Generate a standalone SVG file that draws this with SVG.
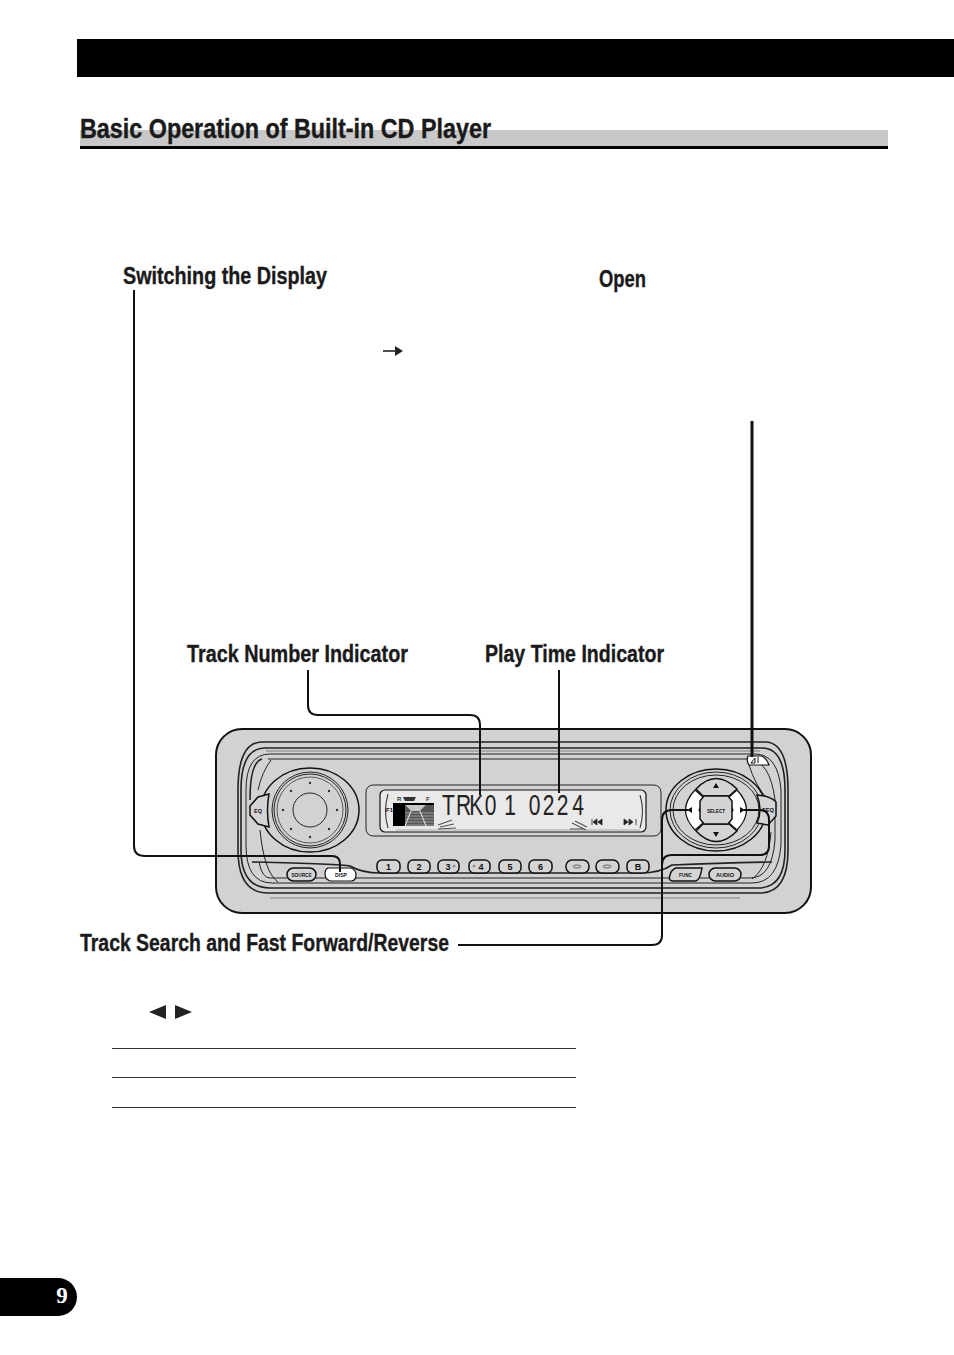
<svg xmlns="http://www.w3.org/2000/svg" width="954" height="1355" viewBox="0 0 954 1355">
<style>
text{font-family:"Liberation Sans",Arial,sans-serif}
.lbl{font-weight:700;font-size:23px;fill:#1a1a1a;stroke:#1a1a1a;stroke-width:.35}
.conn{fill:none;stroke:#111;stroke-width:2}
.l{fill:none;stroke:#222;stroke-width:1}
.l2{fill:none;stroke:#222;stroke-width:1.6}
.g{fill:none;stroke:#999;stroke-width:1.5}
.btn{fill:#d4d4d4;stroke:#111;stroke-width:1.5}
.w{fill:#fff;stroke:#111;stroke-width:1.2}
.t{font-weight:700;font-size:6px;fill:#111;text-anchor:middle}
.n{font-weight:700;font-size:9px;fill:#111;text-anchor:middle}
.seg{font-size:30px;fill:#222}
.d{fill:#333}
</style>
<rect id="header-bar" x="77" y="39" width="877" height="38" fill="#000"/>
<g id="title">
<rect x="80" y="130" width="808" height="16" fill="#c8c8c8"/>
<rect x="80" y="146" width="808" height="3" fill="#000"/>
<text x="80" y="138" font-size="27" font-weight="700" fill="#1a1a1a" stroke="#1a1a1a" stroke-width=".4" textLength="411" lengthAdjust="spacingAndGlyphs">Basic Operation of Built-in CD Player</text>
</g>
<g id="labels">
<text class="lbl" x="123" y="284" textLength="204" lengthAdjust="spacingAndGlyphs">Switching the Display</text>
<text class="lbl" x="599" y="287" textLength="47" lengthAdjust="spacingAndGlyphs">Open</text>
<text class="lbl" x="187" y="662" textLength="221" lengthAdjust="spacingAndGlyphs">Track Number Indicator</text>
<text class="lbl" x="485" y="662" textLength="179" lengthAdjust="spacingAndGlyphs">Play Time Indicator</text>
<text class="lbl" x="80" y="951" textLength="369" lengthAdjust="spacingAndGlyphs">Track Search and Fast Forward/Reverse</text>
</g>
<g id="small-arrow">
<path d="M383 351H397" stroke="#222" stroke-width="1.6" fill="none"/>
<path d="M395 346L403 351L395 356Z" fill="#222"/>
</g>
<g id="cd-player">
<rect x="216" y="729" width="595" height="184" rx="26" fill="#d2d2d2" stroke="#111" stroke-width="2"/>
<path class="l2" d="M238 790Q238 742 262 742H765Q788 742 788 790V850Q788 893 760 893H268Q238 893 238 850Z"/>
<path class="l2" d="M241 790Q241 748 265 748H762Q785 748 785 790V850Q785 888 758 888H270Q241 888 241 850Z"/>
<path class="l" d="M246 790Q246 754 270 754H755Q778 754 781 790V845Q778 883 752 883H272Q246 883 246 845Z"/>
<path class="g" d="M266 751H760"/>
<path class="g" d="M270 898H740"/>
<path class="l2" d="M262 759Q250 762 250 800"/>
<path class="l" d="M268 759H748Q770 760 775 800V840Q772 878 750 878H270Q262 878 259 862"/>
<path class="l2" d="M252 862Q340 864 350 866Q362 873 380 873H640Q660 873 672 865Q720 863 772 862"/>
<path class="l" d="M271 760Q262 772 258 790M260 830Q264 872 278 882"/>
<path class="l" d="M749 765Q755 785 768 800M771 832Q768 868 752 879"/>
<g id="left-knob">
<ellipse cx="310" cy="810" rx="49" ry="42" fill="#d2d2d2" stroke="#111" stroke-width="1.5"/>
<circle cx="310" cy="810" r="38" fill="none" stroke="#222"/>
<circle cx="310" cy="810" r="36" fill="none" stroke="#222"/>
<circle cx="310" cy="810" r="33" fill="none" stroke="#555"/>
<circle cx="310" cy="810" r="17" fill="none" stroke="#222"/>
<g class="d"><circle cx="310" cy="783" r="1.2"/><circle cx="310" cy="837" r="1.2"/><circle cx="283" cy="810" r="1.2"/><circle cx="337" cy="810" r="1.2"/><circle cx="291" cy="791" r="1.2"/><circle cx="329" cy="791" r="1.2"/><circle cx="291" cy="829" r="1.2"/><circle cx="329" cy="829" r="1.2"/></g>
</g>
<g id="eq-button">
<path class="btn" d="M250 806L258 797L269 794Q266 810 269 827L258 824L250 815Z"/>
<text class="t" x="258" y="813" textLength="8" lengthAdjust="spacingAndGlyphs">EQ</text>
</g>
<g id="display">
<rect x="366" y="785" width="295" height="51" rx="7" fill="#d2d2d2" stroke="#222" stroke-width="1"/>
<rect x="380" y="790" width="266" height="42" rx="5" fill="#e9e9e9" stroke="#111" stroke-width="1.2"/>
<path d="M388 794Q383 811 388 828M640 795Q645 811 640 828" class="l"/>
<text x="386" y="812" font-size="6" font-weight="700" fill="#111">F1</text>
<text x="397" y="801" font-size="6" font-weight="700" fill="#333">R</text>
<path d="M403 797H416L414 801H405Z" fill="#333"/>
<text x="426" y="801" font-size="6" font-weight="700" fill="#333">F</text>
<rect x="393" y="803" width="41" height="23" fill="#555"/>
<rect x="393" y="805" width="12" height="21" fill="#000"/>
<path d="M393 803H434V805H426L420 811H411L405 805H393Z" fill="#000"/>
<path d="M405 805H426L420 811H411Z" fill="#c8c8c8"/>
<path d="M405 813H434M405 816H434M405 819H434M405 822H434M405 825H434" stroke="#bbb" stroke-width=".7"/>
<path d="M411 811L405 826M420 811L426 826" stroke="#eee" stroke-width="1"/>
<g id="lcd-digits">
<text class="seg" transform="translate(442 815) scale(.7 1)" x="0 20 39 61 89 110 124 144 164 186">TRK01 0224</text>
</g>
<path d="M396 830H640" stroke="#bbb" stroke-width="1.5"/>
<path d="M438 825L452 820M440 827L454 824M438 829L456 828" stroke="#555" stroke-width="1.2"/>
<path d="M572 823L586 830M575 821L587 827M570 829L584 829" stroke="#555" stroke-width="1.2"/>
<path d="M592 819V825M597 819L593 822L597 825ZM602 819L598 822L602 825Z" fill="#222" stroke="#222" stroke-width=".8"/>
<path d="M624 819L628 822L624 825ZM629 819L633 822L629 825ZM636 819V825" fill="#222" stroke="#222" stroke-width=".8"/>
</g>
<g id="right-knob">
<ellipse cx="716" cy="810" rx="50" ry="41" fill="#d2d2d2" stroke="#111" stroke-width="1.5"/>
<ellipse cx="716" cy="810" rx="46" ry="38" fill="none" stroke="#222"/>
<ellipse cx="716" cy="810" rx="43" ry="35" fill="none" stroke="#222"/>
<path class="btn" d="M696 789Q716 768 737 789L729 796H703Z"/>
<path class="btn" d="M696 831Q716 852 737 831L729 824H703Z"/>
<path class="w" d="M695 790L703 797V803L699 810L703 817V823L695 830Q676 810 695 790Z" stroke-width="1.4"/>
<path class="w" d="M737 790L729 797V803L733 810L729 817V823L737 830Q756 810 737 790Z" stroke-width="1.4"/>
<path class="btn" d="M704 796H728L732 801V819L728 824H704L700 819V801Z"/>
<text class="t" x="716" y="813" textLength="18" lengthAdjust="spacingAndGlyphs">SELECT</text>
<path d="M716 783L713 788H719ZM716 837L713 832H719ZM687 810L692 807V813ZM745 810L740 807V813Z" fill="#111"/>
</g>
<g id="open-button">
<path class="btn" d="M757 795Q770 796 776 802V816L768 825L757 823Q763 810 757 795Z"/>
<text class="t" x="768" y="812" textLength="12" lengthAdjust="spacingAndGlyphs">SEQ</text>
</g>
<g id="eject-button">
<path class="w" d="M748 756H761Q766 757 769 765H749Q746 760 748 756Z"/>
<path d="M751 763L755 758V763ZM758 757V763" fill="none" stroke="#111"/>
</g>
<g id="preset-buttons">
<g id="btn-1"><rect class="btn" x="377" y="860" width="23" height="13" rx="5"/><text class="n" x="388.500" y="870">1</text></g>
<g id="btn-2"><rect class="btn" x="408" y="860" width="22" height="13" rx="5"/><text class="n" x="419" y="870">2</text></g>
<g id="btn-3"><rect class="btn" x="438" y="860" width="21" height="13" rx="5"/><text class="n" x="448" y="870">3</text><circle cx="454" cy="866" r="1" fill="none" stroke="#333" stroke-width=".5"/></g>
<g id="btn-4"><rect class="btn" x="469" y="860" width="21" height="13" rx="5"/><text class="n" x="481" y="870">4</text><circle cx="474" cy="866" r="1" fill="none" stroke="#333" stroke-width=".5"/></g>
<g id="btn-5"><rect class="btn" x="499" y="860" width="22" height="13" rx="5"/><text class="n" x="510" y="870">5</text></g>
<g id="btn-6"><rect class="btn" x="529" y="860" width="23" height="13" rx="5"/><text class="n" x="540.500" y="870">6</text></g>
<g id="btn-up"><rect class="btn" x="566" y="860" width="23" height="13" rx="6"/><ellipse cx="577" cy="866.500" rx="4" ry="1.500" fill="none" stroke="#333" stroke-width=".7"/></g>
<g id="btn-down"><rect class="btn" x="596" y="860" width="23" height="13" rx="6"/><ellipse cx="607" cy="866.500" rx="4" ry="1.500" fill="none" stroke="#333" stroke-width=".7"/></g>
<g id="btn-b"><rect class="btn" x="627" y="860" width="22" height="13" rx="5"/><text class="n" x="638" y="870">B</text></g>
</g>
<g id="btn-source"><rect class="btn" x="287" y="868" width="29" height="13" rx="6.500"/><text class="t" x="301.500" y="877" textLength="20" lengthAdjust="spacingAndGlyphs">SOURCE</text></g>
<g id="btn-disp"><path class="w" d="M328 868H351Q356 870 356 875Q356 881 351 881H330Q325 879 325 874Q325 869 328 868Z"/><text class="t" x="341" y="877" textLength="12" lengthAdjust="spacingAndGlyphs">DISP</text></g>
<g id="btn-func"><path class="btn" d="M676 868H702Q700 880 696 881H672Q668 880 670 875Q671 870 676 868Z"/><text class="t" x="685.500" y="877" textLength="13" lengthAdjust="spacingAndGlyphs">FUNC</text></g>
<g id="btn-audio"><rect class="btn" x="709" y="868" width="32" height="13" rx="6.500"/><text class="t" x="725" y="877" textLength="18" lengthAdjust="spacingAndGlyphs">AUDIO</text></g>
</g>
<g id="connectors">
<path class="conn" d="M134 290V846Q134 856 145 856H332Q340 856 340 864V872"/>
<path class="conn" d="M308 670V705Q308 715 318 715H470Q480 715 480 725V795"/>
<path class="conn" d="M559 670V793"/>
<path class="conn" style="stroke-width:3" d="M752 421V757"/>
<path class="conn" d="M458 945H652Q662 945 662 935V820Q662 810 672 810H688"/>
<path class="conn" d="M662 865Q662 855 672 855H760Q769 855 769 846V820Q769 810 760 810H744"/>
</g>
<g id="arrows-text">
<path d="M149 1012L166 1005V1019Z" fill="#222"/>
<path d="M175 1005L192 1012L175 1019Z" fill="#222"/>
</g>
<g id="table-rules" stroke="#333" stroke-width="1">
<path d="M112 1048.500H576M112 1077.500H576M112 1107.500H576"/>
</g>
<g id="page-tab">
<path d="M0 1278H58A19 19 0 0 1 58 1316H0Z" fill="#000"/>
<text x="62" y="1303" font-size="23" font-weight="700" fill="#fff" text-anchor="middle" style="font-family:'Liberation Serif',serif">9</text>
</g>
</svg>
